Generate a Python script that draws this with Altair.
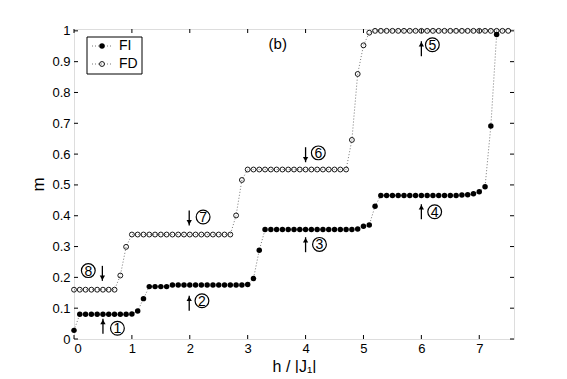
import altair as alt
import pandas as pd

# ---- data ----
h_fi = [0.0, 0.1, 0.2, 0.3, 0.4, 0.5, 0.6, 0.7, 0.8, 0.9,
        1.0, 1.1, 1.2, 1.3, 1.4, 1.5, 1.6, 1.7, 1.8, 1.9,
        2.0, 2.1, 2.2, 2.3, 2.4, 2.5, 2.6, 2.7, 2.8, 2.9,
        3.0, 3.1, 3.2, 3.3, 3.4, 3.5, 3.6, 3.7, 3.8, 3.9,
        4.0, 4.1, 4.2, 4.3, 4.4, 4.5, 4.6, 4.7, 4.8, 4.9,
        5.0, 5.1, 5.2, 5.3, 5.4, 5.5, 5.6, 5.7, 5.8, 5.9,
        6.0, 6.1, 6.2, 6.3, 6.4, 6.5, 6.6, 6.7, 6.8, 6.9,
        7.0, 7.1, 7.2, 7.3]
m_fi = [0.028, 0.080, 0.080, 0.080, 0.080, 0.080, 0.080, 0.080, 0.080, 0.080,
        0.081, 0.091, 0.131, 0.170, 0.170, 0.170, 0.170, 0.175, 0.175, 0.175,
        0.175, 0.175, 0.175, 0.175, 0.175, 0.175, 0.175, 0.175, 0.175, 0.175,
        0.177, 0.196, 0.288, 0.355, 0.355, 0.355, 0.355, 0.355, 0.355, 0.355,
        0.355, 0.355, 0.355, 0.355, 0.355, 0.355, 0.355, 0.355, 0.355, 0.357,
        0.366, 0.370, 0.431, 0.466, 0.466, 0.466, 0.466, 0.466, 0.466, 0.466,
        0.466, 0.466, 0.466, 0.466, 0.466, 0.466, 0.466, 0.467, 0.468, 0.471,
        0.478, 0.494, 0.691, 0.988]

h_fd = [0.0, 0.1, 0.2, 0.3, 0.4, 0.5, 0.6, 0.7, 0.8, 0.9,
        1.0, 1.1, 1.2, 1.3, 1.4, 1.5, 1.6, 1.7, 1.8, 1.9,
        2.0, 2.1, 2.2, 2.3, 2.4, 2.5, 2.6, 2.7, 2.8, 2.9,
        3.0, 3.1, 3.2, 3.3, 3.4, 3.5, 3.6, 3.7, 3.8, 3.9,
        4.0, 4.1, 4.2, 4.3, 4.4, 4.5, 4.6, 4.7, 4.8, 4.9,
        5.0, 5.1, 5.2, 5.3, 5.4, 5.5, 5.6, 5.7, 5.8, 5.9,
        6.0, 6.1, 6.2, 6.3, 6.4, 6.5, 6.6, 6.7, 6.8, 6.9,
        7.0, 7.1, 7.2, 7.3, 7.4, 7.5]
m_fd = [0.160, 0.160, 0.160, 0.160, 0.160, 0.160, 0.160, 0.160, 0.206, 0.299,
        0.339, 0.339, 0.339, 0.339, 0.339, 0.339, 0.339, 0.339, 0.339, 0.339,
        0.339, 0.339, 0.339, 0.339, 0.339, 0.339, 0.339, 0.339, 0.401, 0.516,
        0.550, 0.550, 0.550, 0.550, 0.550, 0.550, 0.550, 0.550, 0.550, 0.550,
        0.550, 0.550, 0.550, 0.550, 0.550, 0.550, 0.550, 0.550, 0.646, 0.860,
        0.953, 0.994, 1.0, 1.0, 1.0, 1.0, 1.0, 1.0, 1.0, 1.0,
        1.0, 1.0, 1.0, 1.0, 1.0, 1.0, 1.0, 1.0, 1.0, 1.0,
        1.0, 1.0, 1.0, 1.0, 1.0, 1.0]

x_ticks = [0, 1, 2, 3, 4, 5, 6, 7]
y_ticks = [0, 0.1, 0.2, 0.3, 0.4, 0.5, 0.6, 0.7, 0.8, 0.9, 1]

# annotation arrows: x, centre, direction
arrow_x = [0.50, 1.99, 4.00, 6.00, 6.00, 4.00, 1.99, 0.49]
arrow_y = [0.041, 0.116, 0.306, 0.413, 0.942, 0.598, 0.393, 0.213]
arrow_dir = ["up", "up", "up", "up", "up", "down", "down", "down"]
# circled step numbers
circ_x = [0.75, 2.21, 4.24, 6.23, 6.19, 4.22, 2.23, 0.247]
circ_y = [0.035, 0.124, 0.307, 0.413, 0.955, 0.604, 0.396, 0.222]
circ_t = ["1", "2", "3", "4", "5", "6", "7", "8"]

legend_labels = ["FI", "FD"]

# ---- chart ----
W, H = 440, 310
DMAX = 1.006
xs = alt.Scale(domain=[0, 7.6], nice=False, zero=False)
ys = alt.Scale(domain=[0, DMAX], nice=False, zero=False)
PX = DMAX / H  # data units per pixel in y

FONT = "Liberation Sans"
xaxis = alt.Axis(values=x_ticks, title="h / |J₁|", ticks=False, domain=False, grid=False,
                 labelFont=FONT, labelFontSize=13, labelColor="black", labelPadding=3,
                 titleFont=FONT, titleFontSize=16, titleFontWeight="normal", titleColor="black",
                 titlePadding=3)
yaxis = alt.Axis(values=y_ticks, title="m", ticks=False, domain=False, grid=False, format="~g",
                 labelFont=FONT, labelFontSize=13, labelColor="black", labelPadding=4,
                 titleFont=FONT, titleFontSize=17, titleFontWeight="normal", titleColor="black",
                 titlePadding=4)

fi = pd.DataFrame({"h": h_fi, "m": m_fi})
fd = pd.DataFrame({"h": h_fd, "m": m_fd})

X = alt.X("h:Q", scale=xs, axis=xaxis)
Y = alt.Y("m:Q", scale=ys, axis=yaxis)

dot = dict(color="#777777", strokeDash=[1, 2], strokeWidth=1)
line_fi = alt.Chart(fi).mark_line(**dot).encode(x=X, y=Y)
line_fd = alt.Chart(fd).mark_line(**dot).encode(x=X, y=Y)
pts_fi = alt.Chart(fi).mark_point(filled=True, color="black", size=30, opacity=1).encode(x=X, y=Y)
pts_fd = alt.Chart(fd).mark_point(filled=False, color="black", size=24, strokeWidth=0.9,
                                  opacity=1).encode(x=X, y=Y)

xt = pd.DataFrame({"h": x_ticks})
yt = pd.DataFrame({"m": y_ticks})
TL = 4
tick_b = alt.Chart(xt).mark_rule(color="black", strokeWidth=1).encode(
    x=X, y=alt.value(H), y2=alt.value(H - TL))
tick_t = alt.Chart(xt).mark_rule(color="black", strokeWidth=1).encode(
    x=X, y=alt.value(0), y2=alt.value(TL))
tick_l = alt.Chart(yt).mark_rule(color="black", strokeWidth=1).encode(
    y=Y, x=alt.value(0), x2=alt.value(TL))
tick_r = alt.Chart(yt).mark_rule(color="black", strokeWidth=1).encode(
    y=Y, x=alt.value(W - TL), x2=alt.value(W))

# arrows: shaft of 15 px, head at tip
half = 7.5 * PX
arr = pd.DataFrame({"h": arrow_x, "c": arrow_y, "d": arrow_dir})
arr["lo"] = arr["c"] - half
arr["hi"] = arr["c"] + half
arr["tip"] = [hi - 3 * PX if d == "up" else lo + 3 * PX
              for d, lo, hi in zip(arr["d"], arr["lo"], arr["hi"])]
arr["shape"] = ["triangle-up" if d == "up" else "triangle-down" for d in arr["d"]]
shafts = alt.Chart(arr).mark_rule(color="black", strokeWidth=1.3).encode(
    x=X, y=alt.Y("lo:Q", scale=ys, axis=yaxis), y2="hi:Q")
heads = alt.Chart(arr).mark_point(filled=True, color="black", size=28, opacity=1).encode(
    x=X, y=alt.Y("tip:Q", scale=ys, axis=yaxis),
    shape=alt.Shape("shape:N", scale=None, legend=None))

circ = pd.DataFrame({"h": circ_x, "m": circ_y, "t": circ_t})
rings = alt.Chart(circ).mark_point(filled=False, color="black", size=190, strokeWidth=1.2,
                                   opacity=1).encode(x=X, y=Y)
digits = alt.Chart(circ).mark_text(font=FONT, fontSize=14, color="black", dy=1,
                                   baseline="middle", align="center").encode(x=X, y=Y, text="t:N")

label_b = alt.Chart(pd.DataFrame({"h": [3.52], "m": [0.958], "t": ["(b)"]})).mark_text(
    font=FONT, fontSize=15, color="black", baseline="middle", align="center").encode(
    x=X, y=Y, text="t:N")

# legend (drawn in pixel space)
one = alt.Data(values=[{"a": 1}])
leg_box = alt.Chart(one).mark_rect(fill="white", stroke="black", strokeWidth=1).encode(
    x=alt.value(13), x2=alt.value(68), y=alt.value(8), y2=alt.value(45))
leg_l1 = alt.Chart(one).mark_rule(**dot).encode(x=alt.value(18), x2=alt.value(38), y=alt.value(17))
leg_l2 = alt.Chart(one).mark_rule(**dot).encode(x=alt.value(18), x2=alt.value(38), y=alt.value(35))
leg_p1 = alt.Chart(one).mark_point(filled=True, color="black", size=30, opacity=1).encode(
    x=alt.value(28), y=alt.value(17))
leg_p2 = alt.Chart(one).mark_point(filled=False, color="black", size=24, strokeWidth=0.9,
                                   opacity=1).encode(x=alt.value(28), y=alt.value(35))
leg_t1 = alt.Chart(one).mark_text(font=FONT, fontSize=14, color="black", align="left",
                                  baseline="middle").encode(
    x=alt.value(45), y=alt.value(17), text=alt.value(legend_labels[0]))
leg_t2 = alt.Chart(one).mark_text(font=FONT, fontSize=14, color="black", align="left",
                                  baseline="middle").encode(
    x=alt.value(45), y=alt.value(35), text=alt.value(legend_labels[1]))

chart = alt.layer(
    line_fi, line_fd, pts_fd, pts_fi,
    tick_b, tick_t, tick_l, tick_r,
    shafts, heads, rings, digits, label_b,
    leg_box, leg_l1, leg_l2, leg_p1, leg_p2, leg_t1, leg_t2,
).properties(
    width=W, height=H,
    autosize=alt.AutoSizeParams(type="none"),
    padding={"left": 66, "top": 21, "right": 45, "bottom": 34},
).configure_view(stroke="black", strokeWidth=1).configure(background="white")

chart.save("out.html", embed_options={"renderer": "svg", "actions": False})
